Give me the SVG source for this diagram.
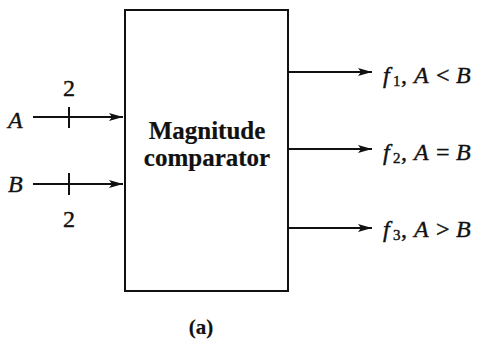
<svg xmlns="http://www.w3.org/2000/svg" width="479" height="340" viewBox="0 0 479 340">
<defs>
<marker id="ah" viewBox="0 0 14 8" refX="14" refY="4" markerWidth="14" markerHeight="8" markerUnits="userSpaceOnUse" orient="auto">
<path d="M0,0 L14,4 L0,8 L3,4 Z" fill="#111"/>
</marker>
</defs>
<style>
.ln{stroke:#111;stroke-width:2;fill:none}
.t{font-family:"Liberation Serif","Times New Roman",serif;font-size:24px;fill:#111;stroke:#111;stroke-width:0.4}
.i{font-style:italic}
.d{font-size:24px}
.s{font-size:15px}
.b{font-weight:bold;font-size:25px;stroke-width:0.2}
.a{font-weight:bold;font-size:21px;stroke-width:0.2}
</style>
<rect width="479" height="340" fill="#fff"/>
<g id="comparator">
<rect x="125" y="10" width="163" height="281" class="ln" stroke-width="2.5"/>
<text class="t b" x="207" y="139" text-anchor="middle">Magnitude</text>
<text class="t b" x="207" y="166" text-anchor="middle">comparator</text>
</g>
<g id="connectors">
<line class="ln" x1="33" y1="117" x2="123" y2="117" marker-end="url(#ah)"/>
<line class="ln" x1="69" y1="107" x2="69" y2="128"/>
<line class="ln" x1="33" y1="184" x2="123" y2="184" marker-end="url(#ah)"/>
<line class="ln" x1="69" y1="173" x2="69" y2="195"/>
<line class="ln" x1="288" y1="72" x2="372" y2="72" marker-end="url(#ah)"/>
<line class="ln" x1="288" y1="149" x2="372" y2="149" marker-end="url(#ah)"/>
<line class="ln" x1="288" y1="228" x2="372" y2="228" marker-end="url(#ah)"/>
</g>
<g id="labels">
<text class="t d" x="69" y="96" text-anchor="middle">2</text>
<text class="t i" x="8" y="128">A</text>
<text class="t i" x="8" y="192">B</text>
<text class="t d" x="69" y="227" text-anchor="middle">2</text>
<text class="t" y="83"><tspan class="i" x="383">f</tspan><tspan class="s" x="393" y="86">1</tspan><tspan x="401" y="83">,</tspan><tspan class="i" x="414">A</tspan><tspan x="436">&lt;</tspan><tspan class="i" x="456">B</tspan></text>
<text class="t" y="160"><tspan class="i" x="383">f</tspan><tspan class="s" x="393" y="163">2</tspan><tspan x="401" y="160">,</tspan><tspan class="i" x="414">A</tspan><tspan x="436">=</tspan><tspan class="i" x="456">B</tspan></text>
<text class="t" y="237"><tspan class="i" x="383">f</tspan><tspan class="s" x="393" y="240">3</tspan><tspan x="401" y="237">,</tspan><tspan class="i" x="414">A</tspan><tspan x="436">&gt;</tspan><tspan class="i" x="456">B</tspan></text>
<text class="t a" x="201" y="334" text-anchor="middle">(a)</text>
</g>
</svg>
